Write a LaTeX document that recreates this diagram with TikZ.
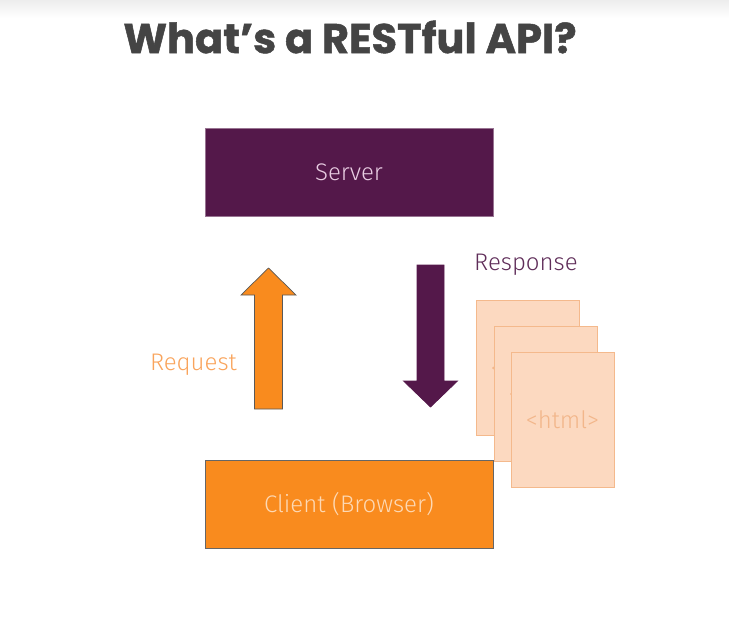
\documentclass[tikz,border=0pt]{standalone}
\usepackage{fontspec}
\setmainfont{Fira Sans Light}
\newfontfamily\titlefont{Poppins}[BoldFeatures={FakeBold=1.2}]
\usetikzlibrary{positioning}
\definecolor{srvpurple}{HTML}{54184A}
\definecolor{cliorange}{HTML}{F98B1E}
\definecolor{reqorange}{HTML}{F9A45C}
\definecolor{resppurple}{HTML}{5F2D59}
\definecolor{pagefill}{HTML}{FCD9C0}
\definecolor{pageline}{HTML}{F4B98C}
\definecolor{pagetext}{HTML}{F2B68A}
\definecolor{titlegray}{HTML}{444444}
\definecolor{srvtext}{HTML}{E8CCE2}
\definecolor{clitext}{HTML}{FDD9B5}
\tikzset{
  box/.style={rectangle, minimum width=288pt, minimum height=88pt, inner sep=0pt, font=\fontsize{24}{28}\selectfont},
  pagebox/.style={rectangle, draw=pageline, fill=pagefill, line width=0.8pt, minimum width=103pt, minimum height=135pt, inner sep=0pt, text=pagetext, font=\fontsize{24}{28}\selectfont},
  label/.style={inner sep=0pt, font=\fontsize{24}{28}\selectfont},
  bigarrow/.style={line width=0.7pt, draw=black!65},
}
\begin{document}
\begin{tikzpicture}[x=1pt,y=-1pt]
\path[use as bounding box] (0,0) rectangle (729,629);
\fill[top color=black!7, bottom color=white] (0,0) rectangle (729,18);
\node[inner sep=0pt, text=titlegray, font=\titlefont\bfseries\fontsize{41.5}{44}\selectfont] (title) at (350,37) {What’s a RESTful API?};
\node[box, fill=srvpurple, draw=srvpurple!60!white, line width=0.6pt, text=srvtext] (server) at (349,172) {Server};
\node[box, fill=cliorange, draw=black!60, line width=0.8pt, text=clitext] (client) at (349,504.5) {Client (Browser)};
% request arrow
\coordinate (reqbase) at (268.5,409);
\coordinate (reqtip) at (268.5,268);
\filldraw[bigarrow, fill=cliorange] (254.5,409) -- (254.5,295) -- (241,295) -- (reqtip) -- (296,295) -- (282.5,295) -- (282.5,409) -- cycle;
\node[label, text=reqorange, anchor=east] (request) at (237,365) {Request};
% response arrow
\coordinate (resptop) at (430.5,265);
\coordinate (resptip) at (430.5,407);
\filldraw[bigarrow, fill=srvpurple, draw=srvpurple] (417,265) -- (444,265) -- (444,381) -- (457.5,381) -- (resptip) -- (403.5,381) -- (417,381) -- cycle;
\node[label, text=resppurple, anchor=west] (response) at (474,265) {Response};
% pages
\node[pagebox] (page1) at (527.5,368) {<html>};
\node[pagebox] (page2) at (545.5,393.5) {<html>};
\node[pagebox] (page3) at (562.5,420) {<html>};
\end{tikzpicture}
\end{document}
